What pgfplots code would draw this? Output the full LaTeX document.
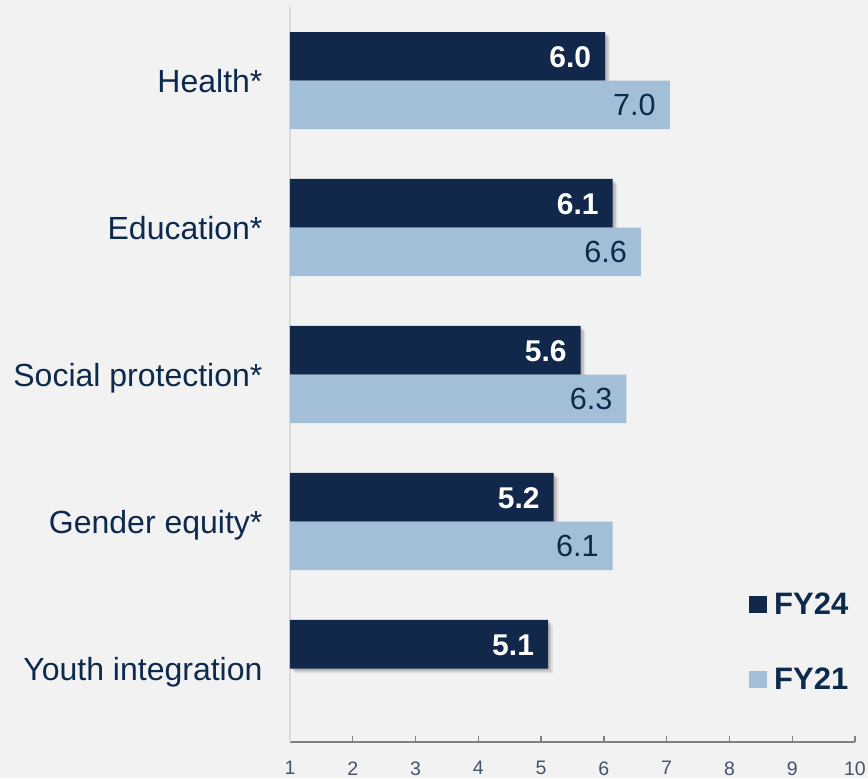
\documentclass[border=0pt]{standalone}
\usepackage{pgfplots}
\pgfplotsset{compat=1.18}
\usepackage{fontspec}
\setmainfont{Liberation Sans}
\definecolor{bg}{HTML}{F2F2F2}
\definecolor{darkbar}{HTML}{12284B}
\definecolor{lightbar}{HTML}{A3BED7}
\definecolor{navytxt}{HTML}{0D2A4C}
\definecolor{ticktxt}{HTML}{44546A}
\pgfplotstableread{
x y l
6.02 4 6.0
6.14 3 6.1
5.63 2 5.6
5.20 1 5.2
5.11 0 5.1
}\fytwentyfour
\pgfplotstableread{
x y l
7.05 4 7.0
6.59 3 6.6
6.36 2 6.3
6.14 1 6.1
}\fytwentyone
\begin{document}
\begin{tikzpicture}
\path[use as bounding box, fill=bg] (-145pt,-18pt) rectangle (289pt,371pt);
\begin{axis}[
 at={(0,0)}, anchor=south west,
 scale only axis, width=282.5pt, height=367.5pt,
 xmin=1, xmax=10, ymin=-0.5, ymax=4.5,
 xbar, bar width=0.33,
 axis x line*=bottom, axis y line*=left,
 x axis line style={draw=black!50, line width=1pt, -},
 y axis line style={draw=black!15, line width=1.2pt, -},
 xtick={1,...,10}, ytick={0,...,4},
 yticklabels={Youth integration, Gender equity*, Social protection*, Education*, Health*},
 y tick style={draw=none},
 x tick style={draw=black!50, line width=0.7pt},
 tick align=inside, major tick length=3pt,
 /pgf/number format/assume math mode=true,
 xticklabel style={font=\fontsize{9.75}{11}\selectfont, text=ticktxt, yshift=-6.25pt},
 yticklabel style={font=\fontsize{16}{18}\selectfont, text=navytxt, xshift=-10.25pt, text height=11.5pt, text depth=0pt},
 legend style={at={(axis description cs:0.8124,0.204)}, anchor=north west, draw=none, fill=none, inner sep=0pt, row sep=26.5pt, column sep=3.5pt,
   nodes={inner sep=0pt, text height=11.1pt, text depth=0pt, font=\fontsize{15.5}{18}\selectfont\bfseries, text=navytxt}},
 legend cell align=left,
]
\addplot[bar shift=0.165, fill=black, opacity=0.10, draw=none, xshift=0.8pt, yshift=-0.8pt, forget plot] table[x=x, y=y] {\fytwentyfour};
\addplot[bar shift=0.165, fill=black, opacity=0.10, draw=none, xshift=1.6pt, yshift=-1.6pt, forget plot] table[x=x, y=y] {\fytwentyfour};
\addplot[bar shift=0.165, fill=black, opacity=0.08, draw=none, xshift=2.4pt, yshift=-2.4pt, forget plot] table[x=x, y=y] {\fytwentyfour};
\addplot[bar shift=0.165, fill=darkbar, draw=none,
  nodes near coords, point meta=explicit symbolic,
  every node near coord/.append style={anchor=east, xshift=-3.5pt, text=white, font=\fontsize{15}{18}\selectfont\bfseries, text height=10.8pt, text depth=0pt},
  forget plot] table[x=x, y=y, meta=l] {\fytwentyfour};
\addplot[bar shift=-0.165, fill=lightbar, draw=none,
  nodes near coords, point meta=explicit symbolic,
  every node near coord/.append style={anchor=east, xshift=-3.5pt, text=navytxt, font=\fontsize{15.3}{18}\selectfont, text height=10.9pt, text depth=0pt},
  forget plot] table[x=x, y=y, meta=l] {\fytwentyone};
\addlegendimage{legend image code/.code={\fill[darkbar] (0pt,-4.5pt) rectangle (8.5pt,3.5pt);}}
\addlegendentry{FY24}
\addlegendimage{legend image code/.code={\fill[lightbar] (0pt,-4.5pt) rectangle (8.5pt,3.5pt);}}
\addlegendentry{FY21}
\end{axis}
\end{tikzpicture}
\end{document}
